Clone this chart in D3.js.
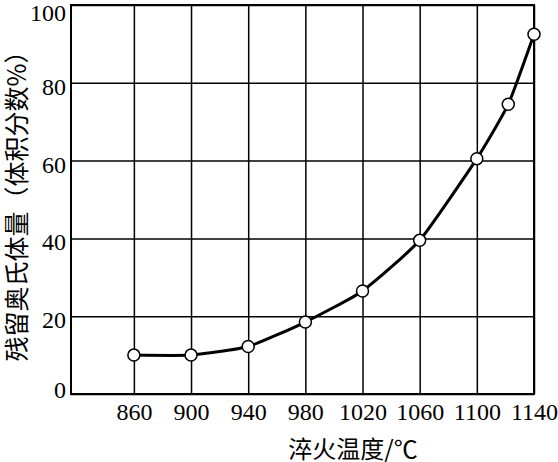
<!DOCTYPE html>
<html>
<head>
<meta charset="utf-8">
<script src="https://cdn.jsdelivr.net/npm/d3@7"></script>
<style>
  body { margin: 0; background: #fff; }
</style>
</head>
<body>
<div class="chart"></div>
<script>
// data
var temps = [860, 900, 940, 980, 1020, 1060, 1100, 1122, 1140];
var austenite = [10, 10, 12.2, 18.5, 26.5, 39.5, 60.5, 74.5, 92.5];
var xTicks = [860, 900, 940, 980, 1020, 1060, 1100, 1140];
var yTicks = [0, 20, 40, 60, 80, 100];

var svgWidth = 558;
var svgHeight = 462;

var margin = { top: 5, right: 24, bottom: 68, left: 71 };
var width = svgWidth - margin.left - margin.right;
var height = svgHeight - margin.top - margin.bottom;

var svg = d3.select(".chart")
  .append("svg")
  .attr("width", svgWidth)
  .attr("height", svgHeight);

var chartGroup = svg.append("g")
  .attr("transform", `translate(${margin.left}, ${margin.top})`);

var xScale = d3.scaleLinear().domain([816, 1140]).range([0, width]);
var yScale = d3.scaleLinear().domain([0, 100]).range([height, 0]);

// x axis with grid lines
var xAxis = chartGroup.append("g")
  .attr("transform", `translate(0, ${height})`)
  .call(d3.axisBottom(xScale).tickValues(xTicks).tickSize(-height).tickPadding(9).tickFormat(d3.format("d")));
xAxis.attr("font-family", "Liberation Serif").attr("font-size", 24);
xAxis.select(".domain").remove();
xAxis.selectAll("line").attr("stroke", "#000").attr("stroke-width", 1.5);
xAxis.selectAll("text")
  .attr("fill", "#000")
  .style("font-family", "Liberation Serif");

// y axis with grid lines
var yAxis = chartGroup.append("g")
  .call(d3.axisLeft(yScale).tickValues(yTicks).tickSize(-width).tickPadding(5));
yAxis.attr("font-family", "Liberation Serif").attr("font-size", 24);
yAxis.select(".domain").remove();
yAxis.selectAll("line").attr("stroke", "#000").attr("stroke-width", 1.5);
yAxis.selectAll("text")
  .attr("fill", "#000")
  .style("font-family", "Liberation Serif")
  .attr("dy", "0.35em")
  .attr("y", d => d === 0 ? -5 : (d === 100 ? 7 : 3));

// frame
chartGroup.append("rect")
  .attr("width", width)
  .attr("height", height)
  .attr("fill", "none")
  .attr("stroke", "#000")
  .attr("stroke-width", 2);

var points = temps.map((t, i) => ({ t: t, v: austenite[i] }));

var line = d3.line()
  .x(d => xScale(d.t))
  .y(d => yScale(d.v))
  .curve(d3.curveCardinal.tension(0.5));

chartGroup.append("path")
  .datum(points)
  .attr("d", line)
  .attr("fill", "none")
  .attr("stroke", "#000")
  .attr("stroke-width", 3);

chartGroup.selectAll("circle")
  .data(points)
  .enter()
  .append("circle")
  .attr("cx", d => xScale(d.t))
  .attr("cy", d => yScale(d.v))
  .attr("r", 6)
  .attr("fill", "#fff")
  .attr("stroke", "#000")
  .attr("stroke-width", 1.5);

// axis titles
svg.append("text")
  .attr("x", 353)
  .attr("y", 447)
  .attr("text-anchor", "middle")
  .attr("dominant-baseline", "central")
  .attr("font-size", "24px")
  .style("font-family", "Noto Sans CJK SC")
  .text("淬火温度/℃");

svg.append("text")
  .attr("transform", "translate(15, 200) rotate(-90)")
  .attr("text-anchor", "middle")
  .attr("dominant-baseline", "central")
  .attr("font-size", "25px")
  .style("font-family", "Noto Sans CJK SC")
  .text("残留奥氏体量（体积分数%）");
</script>
</body>
</html>
